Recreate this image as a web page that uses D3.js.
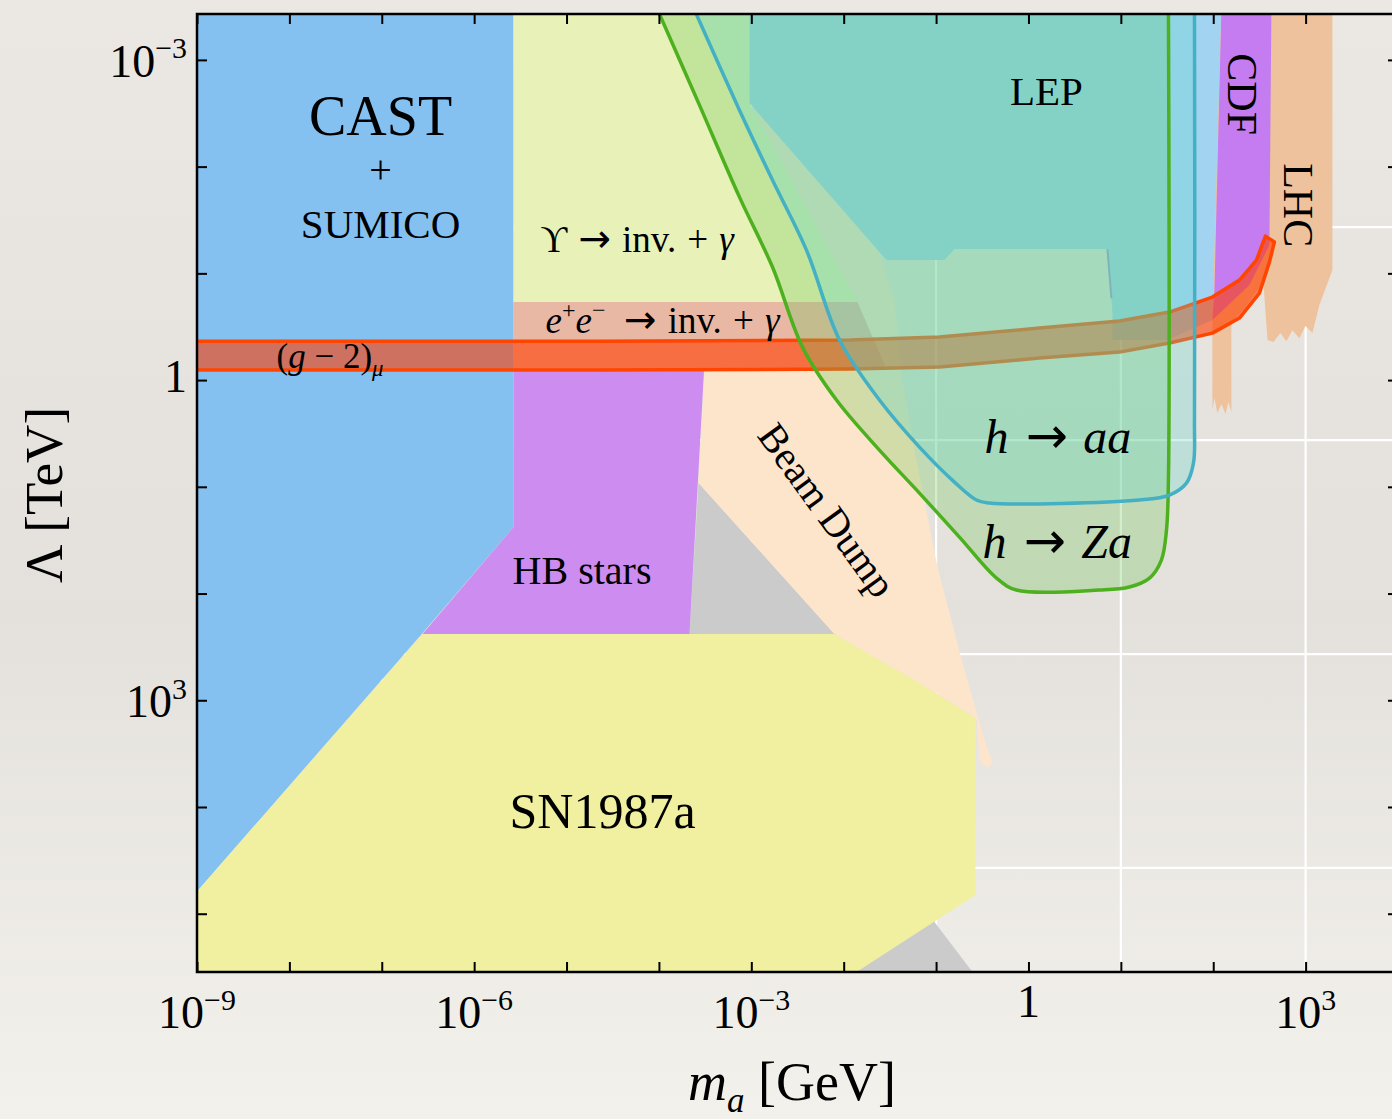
<!DOCTYPE html>
<html>
<head>
<meta charset="utf-8">
<script src="https://cdn.jsdelivr.net/npm/d3@7"></script>
<style>
  body { margin: 0; background: #ebe8e3; }
  text { font-family: "Liberation Serif", "Times New Roman", serif; fill: #000; }
</style>
</head>
<body>
<div id="chart"></div>
<script>
// every outline is a list of [log10(m_a / GeV), log10(Lambda / TeV)]
var castSumico = [[-9.1, -3.5], [-5.574, -3.5], [-5.574, 1.377], [-6.558, 2.37], [-9.1, 4.89]];
var sn1987a = [[-6.558, 2.379], [-2.1, 2.379], [-1.18, 2.838], [-0.574, 3.166], [-0.574, 4.824],
  [-1.861, 5.546], [-1.9, 5.6], [-9.1, 5.6], [-9.1, 4.89]];
var hbStars = [[-5.574, -0.187], [-3.506, -0.187], [-3.669, 2.379], [-6.558, 2.379], [-5.574, 1.377]];
var grayRegion = [[-3.571, 0.965], [-2.1, 2.379], [-1.2, 3.8], [-1.017, 5.077], [-0.606, 5.546],
  [-0.58, 5.6], [-1.95, 5.6], [-3.669, 2.379]];
var beamDump = [[-3.571, 0.965], [-3.506, -0.084], [-3.236, -1.686], [-2.911, -2.529], [-2.478, -2.155],
  [-1.937, -1.546], [-1.613, -1.19], [-1.45, -0.749], [-1.364, 0], [-1.234, 0.656], [-0.985, 1.752],
  [-0.714, 2.651], [-0.455, 3.438], [-0.39, 3.579], [-0.444, 3.635], [-0.53, 3.56], [-0.563, 3.166],
  [-1.18, 2.838], [-2.1, 2.379]];
var upsilonInv = [[-5.574, -3.5], [-3.019, -3.5], [-3.019, -2.595], [-1.851, -0.731], [-5.574, -0.731]];
var eeInv = [[-5.574, -0.731], [-1.851, -0.731], [-1.537, -0.1], [-5.574, -0.1]];
var lep = [[-3.019, -3.5], [2.089, -3.5], [2.013, -0.843], [1.991, -0.562], [1.5, -0.375], [0.909, -0.375],
  [0.909, -0.628], [0.855, -1.227], [-0.801, -1.227], [-0.909, -1.124], [-1.537, -1.124], [-3.019, -2.595]];
var lepEdge = [[0.855, -1.227], [0.898, -0.768]];
var cdf = [[2.089, -3.5], [2.63, -3.5], [2.608, -1.265], [2.392, -0.89], [1.991, -0.562], [2.013, -0.843]];
var lhc = [[2.089, -3.5], [3.29, -3.5], [3.29, -1.03], [3.149, -0.703], [3.074, -0.44], [2.998, -0.506],
  [2.933, -0.393], [2.857, -0.468], [2.792, -0.365], [2.727, -0.44], [2.652, -0.356], [2.587, -0.375],
  [2.543, -0.918], [2.338, -0.675], [2.197, -0.543], [2.197, 0.3], [2.165, 0.206], [2.132, 0.318],
  [2.089, 0.225], [2.045, 0.309], [2.013, 0.169], [1.991, 0.281], [1.991, -0.562]];

// h -> Za and h -> aa contours
var hZa = [[-4.03, -3.5], [-3.561, -2.576], [-3.128, -1.714], [-2.771, -1.059], [-2.446, -0.309],
  [-2.078, 0.187], [-1.613, 0.656], [-1.18, 1.059], [-0.747, 1.471], [-0.346, 1.855], [-0.13, 1.967],
  [0.768, 1.967], [1.093, 1.939], [1.31, 1.855], [1.439, 1.686], [1.494, 1.405], [1.515, 0.937],
  [1.515, -3.5]];
var hAA = [[-3.632, -3.5], [-3.128, -2.529], [-2.771, -1.874], [-2.403, -1.218], [-2.045, -0.375],
  [-1.613, 0.187], [-1.18, 0.628], [-0.801, 0.956], [-0.563, 1.124], [-0.422, 1.152], [1.201, 1.124],
  [1.526, 1.077], [1.71, 0.965], [1.786, 0.778], [1.797, 0.375], [1.797, -3.5]];

// (g-2)_mu band edges
var gm2Top = [[-9.1, -0.365], [-4.643, -0.365], [-1.937, -0.375], [-0.963, -0.403], [0.119, -0.487],
  [0.985, -0.553], [1.526, -0.637], [1.991, -0.778], [2.284, -0.937], [2.468, -1.124], [2.565, -1.349]];
var gm2Bottom = [[-9.1, -0.094], [-4.643, -0.094], [-1.937, -0.103], [-0.963, -0.122], [0.119, -0.206],
  [0.985, -0.262], [1.526, -0.347], [1.991, -0.44], [2.284, -0.581], [2.5, -0.815], [2.608, -1.105],
  [2.662, -1.293]];

// axes
var massTicks = d3.range(-9, 5);
var massLabels = [-9, -6, -3, 0, 3];
var scaleTicks = d3.range(-3, 6);
var scaleLabels = [-3, 0, 3];
var gridMass = [-7, -5, -3, -1, 1, 3];
var gridScale = [-1.433, 0.562, 2.567, 4.571];

var W = 1392, H = 1119;
var svg = d3.select("#chart").append("svg").attr("width", W).attr("height", H);

var x = d3.scaleLog().domain([1e-9, 1e4]).range([197, 1398]);
var y = d3.scaleLog().domain([Math.pow(10, -3.43), Math.pow(10, 5.546)]).range([14, 972]);
function px(p) { return x(Math.pow(10, p[0])); }
function py(p) { return y(Math.pow(10, p[1])); }
var line = d3.line().x(px).y(py);
var smooth = d3.line().x(px).y(py).curve(d3.curveCatmullRom.alpha(0.5));

// paper background
var defs = svg.append("defs");
var bg = defs.append("linearGradient").attr("id", "paper").attr("x1", 0).attr("y1", 0).attr("x2", 0).attr("y2", 1);
bg.append("stop").attr("offset", "0%").attr("stop-color", "#ebe8e3");
bg.append("stop").attr("offset", "55%").attr("stop-color", "#e4e1dc");
bg.append("stop").attr("offset", "100%").attr("stop-color", "#f3f1ec");
svg.append("rect").attr("width", W).attr("height", H).attr("fill", "url(#paper)");

defs.append("clipPath").attr("id", "plotclip")
  .append("rect").attr("x", 197).attr("y", 14).attr("width", 1201).attr("height", 958);

var plot = svg.append("g").attr("clip-path", "url(#plotclip)");

// white grid
plot.selectAll(".gx").data(gridMass).enter().append("line")
  .attr("x1", function (d) { return x(Math.pow(10, d)); })
  .attr("x2", function (d) { return x(Math.pow(10, d)); })
  .attr("y1", 14).attr("y2", 972)
  .attr("stroke", "#ffffff").attr("stroke-width", 2.2);
plot.selectAll(".gy").data(gridScale).enter().append("line")
  .attr("y1", function (d) { return y(Math.pow(10, d)); })
  .attr("y2", function (d) { return y(Math.pow(10, d)); })
  .attr("x1", 197).attr("x2", 1398)
  .attr("stroke", "#ffffff").attr("stroke-width", 2.2);

// excluded regions
var fills = [
  [grayRegion, "#cbcbcb"],
  [castSumico, "#85c1f0"],
  [sn1987a, "#f0f0a0"],
  [hbStars, "#cc8cf0"],
  [beamDump, "#fde5cc"],
  [upsilonInv, "#e8f1b8"],
  [eeInv, "#e9b8a5"],
  [lep, "#a2d4f1"],
  [lhc, "#eec29c"],
  [cdf, "#c47cf0"]
];
fills.forEach(function (f) {
  plot.append("path").attr("d", line(f[0]) + "Z").attr("fill", f[1]);
});
plot.append("path").attr("d", line(lepEdge)).attr("stroke", "#9a94e0").attr("stroke-width", 2).attr("fill", "none");

// (g-2) band
var band = gm2Top.concat(gm2Bottom.slice().reverse());
plot.append("path").attr("d", line(band) + "Z")
  .attr("fill", "rgba(255,60,0,0.6)")
  .attr("stroke", "#ff4500").attr("stroke-width", 3.5).attr("stroke-linejoin", "round");

// higgs decay overlays
plot.append("path").attr("d", smooth(hZa) + "Z").attr("fill", "rgba(110,200,90,0.3)");
plot.append("path").attr("d", smooth(hAA) + "Z").attr("fill", "rgba(100,215,205,0.3)");
plot.append("path").attr("d", smooth(hZa)).attr("fill", "none").attr("stroke", "#4db01e").attr("stroke-width", 3.5);
plot.append("path").attr("d", smooth(hAA)).attr("fill", "none").attr("stroke", "#44b0c4").attr("stroke-width", 3.5);

// text helper: italics, super/subscripts, math arrows, extra gaps (em)
function rich(sel, parts, size) {
  var shift = 0;
  parts.forEach(function (p) {
    var target = p.sup ? -0.4 * size : p.sub ? 0.22 * size : 0;
    var ts = sel.append("tspan").text(p.t).attr("dy", target - shift);
    shift = target;
    if (p.i) ts.attr("font-style", "italic");
    if (p.sup || p.sub) ts.attr("font-size", size * 0.65);
    if (p.a) ts.attr("font-family", "DejaVu Sans").attr("font-size", size * 1.05);
    if (p.dx) ts.attr("dx", p.dx * size);
  });
}
function label(at, parts, size, anchor, rotate) {
  var g = svg.append("text")
    .attr("transform", "translate(" + px(at) + "," + py(at) + ")" + (rotate ? " rotate(" + rotate + ")" : ""))
    .attr("font-size", size).attr("text-anchor", anchor || "start");
  rich(g, parts, size);
}

label([-7.013, -2.295], [{ t: "CAST" }], 56, "middle");
label([-7.013, -1.845], [{ t: "+" }], 40, "middle");
label([-7.013, -1.33], [{ t: "SUMICO" }], 41, "middle");
label([0.195, -2.576], [{ t: "LEP" }], 41, "middle");
label([2.165, -2.679], [{ t: "CDF" }], 42, "middle", 90);
label([2.771, -1.639], [{ t: "LHC" }], 42, "middle", 90);
label([-5.281, -1.199], [{ t: "\u03d2" }, { t: "\u2192", a: true, dx: 0.3 }, { t: "inv.", dx: 0.3 },
  { t: "+", dx: 0.3 }, { t: "\u03b3", i: true, dx: 0.3 }], 37);
label([-5.227, -0.44], [{ t: "e", i: true }, { t: "+", sup: true }, { t: "e", i: true }, { t: "\u2212", sup: true },
  { t: "\u2192", a: true, dx: 0.5 }, { t: "inv.", dx: 0.3 }, { t: "+", dx: 0.3 }, { t: "\u03b3", i: true, dx: 0.3 }], 37);
label([-8.139, -0.112], [{ t: "(" }, { t: "g", i: true }, { t: "\u2212", dx: 0.25 }, { t: "2)", dx: 0.25 },
  { t: "\u03bc", i: true, sub: true }], 35);
label([-5.584, 1.911], [{ t: "HB stars" }], 40);
label([-5.617, 4.197], [{ t: "SN1987a" }], 50);
label([-2.3, 1.293], [{ t: "Beam Dump" }], 40, "middle", 54);
label([-0.476, 0.684], [{ t: "h", i: true }, { t: "\u2192", a: true, dx: 0.36 }, { t: "aa", i: true, dx: 0.32 }], 48);
label([-0.498, 1.667], [{ t: "h", i: true }, { t: "\u2192", a: true, dx: 0.36 }, { t: "Za", i: true, dx: 0.32 }], 48);

// axes: ticks on all four sides
function ticksOnly(axis) {
  return function (g) {
    g.call(axis.tickSize(-10).tickFormat(""));
    g.select(".domain").remove();
    g.selectAll(".tick line").attr("stroke", "#000").attr("stroke-width", 2);
  };
}
var xt = massTicks.map(function (e) { return Math.pow(10, e); });
var yt = scaleTicks.map(function (e) { return Math.pow(10, e); });
svg.append("g").attr("transform", "translate(0,972)").call(ticksOnly(d3.axisBottom(x).tickValues(xt)));
svg.append("g").attr("transform", "translate(0,14)").call(ticksOnly(d3.axisTop(x).tickValues(xt)));
svg.append("g").attr("transform", "translate(197,0)").call(ticksOnly(d3.axisLeft(y).tickValues(yt)));
svg.append("g").attr("transform", "translate(1398,0)").call(ticksOnly(d3.axisRight(y).tickValues(yt)));
svg.append("rect").attr("x", 197).attr("y", 14).attr("width", 1201).attr("height", 958)
  .attr("fill", "none").attr("stroke", "#000").attr("stroke-width", 2.5);

function powParts(e) {
  if (e === 0) return [{ t: "1" }];
  return [{ t: "10" }, { t: (e < 0 ? "\u2212" : "") + Math.abs(e), sup: true }];
}
massLabels.forEach(function (e) {
  var t = svg.append("text").attr("x", x(Math.pow(10, e))).attr("y", e === 0 ? 1017 : 1028)
    .attr("font-size", 46).attr("text-anchor", "middle");
  rich(t, powParts(e), 46);
});
scaleLabels.forEach(function (e) {
  var t = svg.append("text").attr("x", 187).attr("y", y(Math.pow(10, e)) + (e === 0 ? 12 : 17))
    .attr("font-size", 46).attr("text-anchor", "end");
  rich(t, powParts(e), 46);
});

// axis titles
var xTitle = svg.append("text").attr("x", 688).attr("y", 1100).attr("font-size", 54);
rich(xTitle, [{ t: "m", i: true }, { t: "a", i: true, sub: true }, { t: " [GeV]" }], 54);
svg.append("text").attr("transform", "translate(62,495) rotate(-90)")
  .attr("font-size", 53).attr("text-anchor", "middle").text("\u039b [TeV]");
</script>
</body>
</html>
